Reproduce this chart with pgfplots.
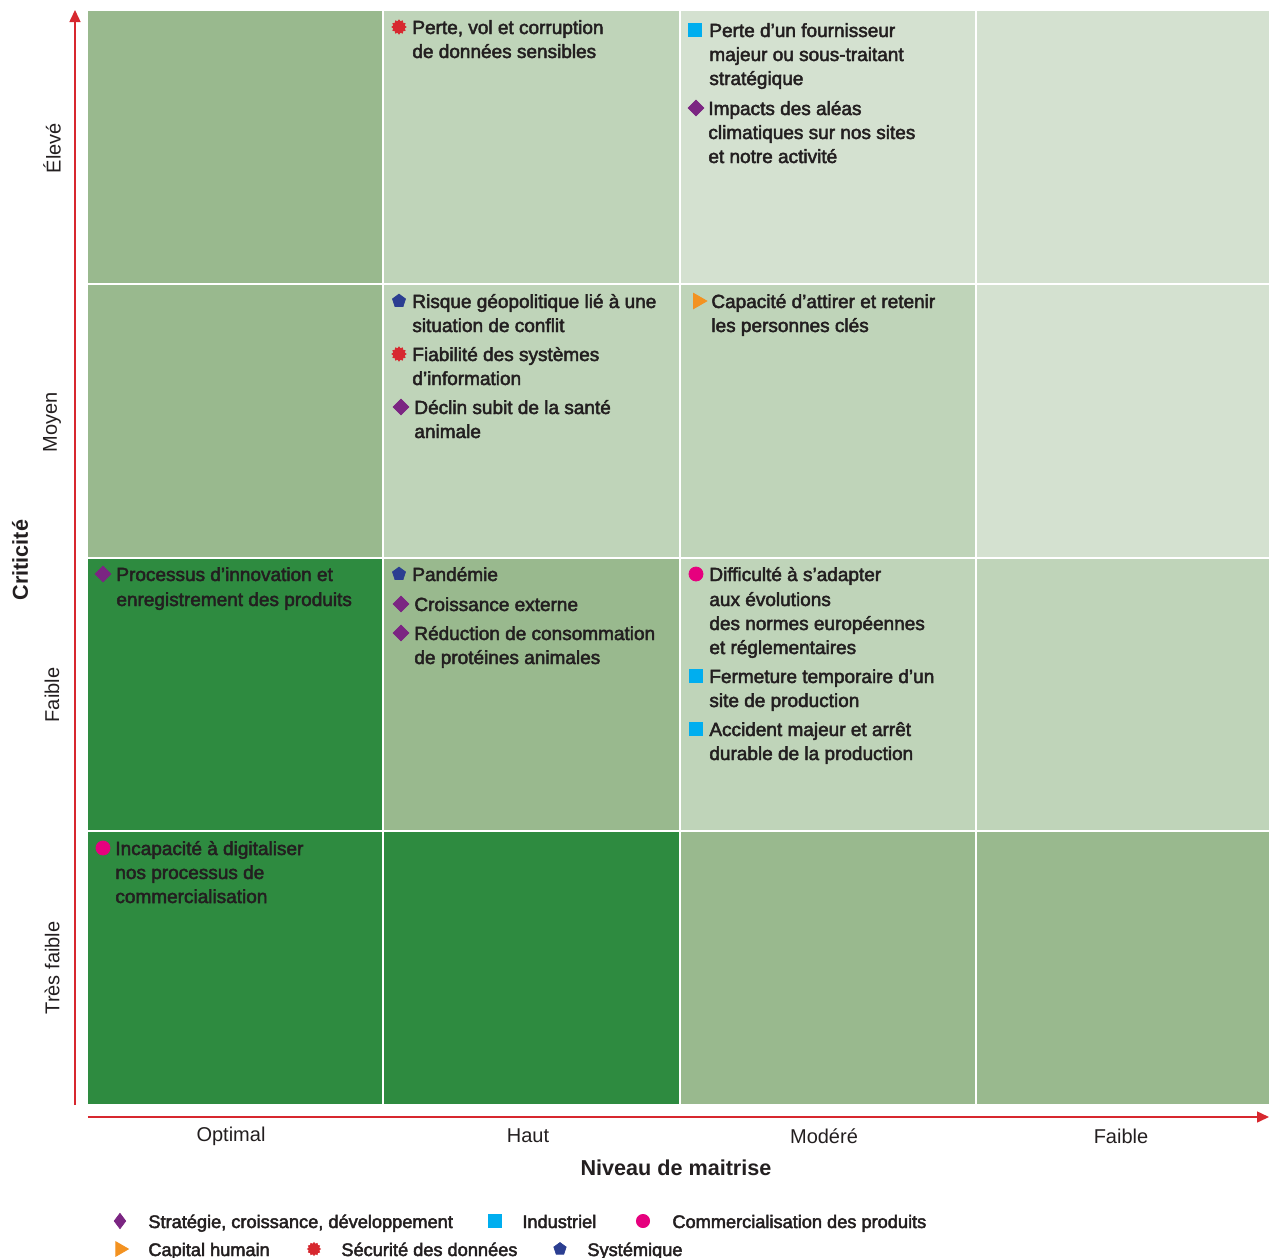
\documentclass[border=0pt]{standalone}
\usepackage{pgfplots}
\pgfplotsset{compat=1.18}
\usepackage{fontspec}
\setmainfont{Liberation Sans}
\newfontfamily\medfont[FakeBold=2.5]{Liberation Sans}
\usetikzlibrary{plotmarks,arrows.meta}
\definecolor{cA}{HTML}{2E8B40}
\definecolor{cB}{HTML}{99B98E}
\definecolor{cC}{HTML}{BFD4B9}
\definecolor{cD}{HTML}{D4E1D0}
\definecolor{txt}{HTML}{231F20}
\definecolor{mpurple}{HTML}{7B2582}
\definecolor{mcyan}{HTML}{00AEEF}
\definecolor{mmag}{HTML}{E6007E}
\definecolor{morange}{HTML}{F39221}
\definecolor{mred}{HTML}{D7282F}
\definecolor{mblue}{HTML}{2B3E91}
\definecolor{axred}{HTML}{D7282F}
\pgfdeclareplotmark{burst}{%
  \pgfpathmoveto{\pgfpointpolar{0}{\pgfplotmarksize}}%
  \pgfpathlineto{\pgfpointpolar{15}{0.78\pgfplotmarksize}}%
  \pgfpathlineto{\pgfpointpolar{30}{\pgfplotmarksize}}%
  \pgfpathlineto{\pgfpointpolar{45}{0.78\pgfplotmarksize}}%
  \pgfpathlineto{\pgfpointpolar{60}{\pgfplotmarksize}}%
  \pgfpathlineto{\pgfpointpolar{75}{0.78\pgfplotmarksize}}%
  \pgfpathlineto{\pgfpointpolar{90}{\pgfplotmarksize}}%
  \pgfpathlineto{\pgfpointpolar{105}{0.78\pgfplotmarksize}}%
  \pgfpathlineto{\pgfpointpolar{120}{\pgfplotmarksize}}%
  \pgfpathlineto{\pgfpointpolar{135}{0.78\pgfplotmarksize}}%
  \pgfpathlineto{\pgfpointpolar{150}{\pgfplotmarksize}}%
  \pgfpathlineto{\pgfpointpolar{165}{0.78\pgfplotmarksize}}%
  \pgfpathlineto{\pgfpointpolar{180}{\pgfplotmarksize}}%
  \pgfpathlineto{\pgfpointpolar{195}{0.78\pgfplotmarksize}}%
  \pgfpathlineto{\pgfpointpolar{210}{\pgfplotmarksize}}%
  \pgfpathlineto{\pgfpointpolar{225}{0.78\pgfplotmarksize}}%
  \pgfpathlineto{\pgfpointpolar{240}{\pgfplotmarksize}}%
  \pgfpathlineto{\pgfpointpolar{255}{0.78\pgfplotmarksize}}%
  \pgfpathlineto{\pgfpointpolar{270}{\pgfplotmarksize}}%
  \pgfpathlineto{\pgfpointpolar{285}{0.78\pgfplotmarksize}}%
  \pgfpathlineto{\pgfpointpolar{300}{\pgfplotmarksize}}%
  \pgfpathlineto{\pgfpointpolar{315}{0.78\pgfplotmarksize}}%
  \pgfpathlineto{\pgfpointpolar{330}{\pgfplotmarksize}}%
  \pgfpathlineto{\pgfpointpolar{345}{0.78\pgfplotmarksize}}%
  \pgfpathclose
  \pgfusepathqfillstroke
}
\newcommand\cellfont{\medfont\fontsize{9.5}{12}\selectfont}
\newcommand\legfont{\medfont\fontsize{9.1}{11}\selectfont}
\newcommand\labfont{\fontsize{10}{12}\selectfont}
\newcommand\titfont{\bfseries\fontsize{10.8}{13}\selectfont}
% cell: x0 x1 y0 y1 colour
\newcommand\cell[5]{\addplot[draw=white, line width=0.7pt, fill=#5] coordinates {(#1,#3) (#2,#3) (#2,#4) (#1,#4) (#1,#3)};}
\newcommand\celltxt[3]{\node[anchor=base west, inner sep=0pt, font=\cellfont, text=txt] at (axis cs:#1,#2) {#3};}
\newcommand\legtxt[3]{\node[anchor=base west, inner sep=0pt, font=\legfont, text=txt] at (axis cs:#1,#2) {#3};}
\begin{document}
\begin{tikzpicture}
\begin{axis}[
  scale only axis, width=591pt, height=547.5pt,
  xmin=87, xmax=1269, ymin=10, ymax=1105, y dir=reverse,
  hide axis, clip=false,
]
% cells (criticity rows x control columns)
\cell{87}{383}{10}{284}{cB}
\cell{383}{680}{10}{284}{cC}
\cell{680}{976}{10}{284}{cD}
\cell{976}{1275}{10}{284}{cD}
\cell{87}{383}{284}{558}{cB}
\cell{383}{680}{284}{558}{cC}
\cell{680}{976}{284}{558}{cC}
\cell{976}{1275}{284}{558}{cD}
\cell{87}{383}{558}{831}{cA}
\cell{383}{680}{558}{831}{cB}
\cell{680}{976}{558}{831}{cC}
\cell{976}{1275}{558}{831}{cC}
\cell{87}{383}{831}{1105}{cA}
\cell{383}{680}{831}{1105}{cA}
\cell{680}{976}{831}{1105}{cB}
\cell{976}{1275}{831}{1105}{cB}
% markers per category
\addplot[only marks, mark=square*, mark size=2.8pt, mark options={rotate=45}, color=mpurple] coordinates {(696,108) (401,407) (103,574) (401,604) (401,633)};
\addplot[only marks, mark=square*, mark size=3.3pt, color=mcyan] coordinates {(695,30) (696,676) (696,729)};
\addplot[only marks, mark=*, mark size=3.5pt, color=mmag] coordinates {(696,574) (103,848)};
\addplot[only marks, mark=triangle*, mark size=4.4pt, mark options={rotate=-90}, color=morange] coordinates {(698,301)};
\addplot[only marks, mark=burst, mark size=3.5pt, color=mred] coordinates {(399,27) (399,354)};
\addplot[only marks, mark=pentagon*, mark size=3.4pt, color=mblue] coordinates {(399,301) (399,574)};
% legend markers
\addplot[only marks, mark=diamond*, mark size=3.8pt, color=mpurple] coordinates {(120,1221)};
\addplot[only marks, mark=square*, mark size=3.1pt, color=mcyan] coordinates {(495,1221)};
\addplot[only marks, mark=*, mark size=3.3pt, color=mmag] coordinates {(643,1221)};
\addplot[only marks, mark=triangle*, mark size=4.2pt, mark options={rotate=-90}, color=morange] coordinates {(120,1249)};
\addplot[only marks, mark=burst, mark size=3.2pt, color=mred] coordinates {(314,1249)};
\addplot[only marks, mark=pentagon*, mark size=3.2pt, color=mblue] coordinates {(560,1249)};
% cell texts
\celltxt{412}{34}{Perte, vol et corruption}
\celltxt{412}{58}{de données sensibles}
\celltxt{709}{37}{Perte d’un fournisseur}
\celltxt{709}{61}{majeur ou sous-traitant}
\celltxt{709}{85}{stratégique}
\celltxt{708}{115}{Impacts des aléas}
\celltxt{708}{139}{climatiques sur nos sites}
\celltxt{708}{163}{et notre activité}
\celltxt{412}{308}{Risque géopolitique lié à une}
\celltxt{412}{332}{situation de conflit}
\celltxt{412}{361}{Fiabilité des systèmes}
\celltxt{412}{385}{d’information}
\celltxt{414}{414}{Déclin subit de la santé}
\celltxt{414}{438}{animale}
\celltxt{711}{308}{Capacité d’attirer et retenir}
\celltxt{711}{332}{les personnes clés}
\celltxt{116}{581}{Processus d’innovation et}
\celltxt{116}{606}{enregistrement des produits}
\celltxt{412}{581}{Pandémie}
\celltxt{414}{611}{Croissance externe}
\celltxt{414}{640}{Réduction de consommation}
\celltxt{414}{664}{de protéines animales}
\celltxt{709}{581}{Difficulté à s’adapter}
\celltxt{709}{606}{aux évolutions}
\celltxt{709}{630}{des normes européennes}
\celltxt{709}{654}{et réglementaires}
\celltxt{709}{683}{Fermeture temporaire d’un}
\celltxt{709}{707}{site de production}
\celltxt{709}{736}{Accident majeur et arrêt}
\celltxt{709}{760}{durable de la production}
\celltxt{115}{855}{Incapacité à digitaliser}
\celltxt{115}{879}{nos processus de}
\celltxt{115}{903}{commercialisation}
% legend texts
\legtxt{148}{1228}{Stratégie, croissance, développement}
\legtxt{522}{1228}{Industriel}
\legtxt{672}{1228}{Commercialisation des produits}
\legtxt{148}{1256}{Capital humain}
\legtxt{341}{1256}{Sécurité des données}
\legtxt{587}{1256}{Systémique}
% axes arrows
\draw[axred, line width=0.75pt, -{Triangle[length=6pt,width=5.5pt]}] (axis cs:75,1105) -- (axis cs:75,10);
\draw[axred, line width=0.75pt, -{Triangle[length=6pt,width=5.5pt]}] (axis cs:88,1117) -- (axis cs:1269,1117);
% axis labels
\node[font=\labfont, text=txt] at (axis cs:231,1136) {Optimal};
\node[font=\labfont, text=txt] at (axis cs:528,1136) {Haut};
\node[font=\labfont, text=txt] at (axis cs:824,1136) {Modéré};
\node[font=\labfont, text=txt] at (axis cs:1121,1136) {Faible};
\node[font=\titfont, text=txt] at (axis cs:676,1168) {Niveau de maitrise};
\node[font=\labfont, text=txt, rotate=90] at (axis cs:52,148) {Élevé};
\node[font=\labfont, text=txt, rotate=90] at (axis cs:52,422) {Moyen};
\node[font=\labfont, text=txt, rotate=90] at (axis cs:52,695) {Faible};
\node[font=\labfont, text=txt, rotate=90] at (axis cs:52,968) {Très faible};
\node[font=\titfont, text=txt, rotate=90] at (axis cs:20,560) {Criticité};
\coordinate (BL) at (axis cs:0,1258);
\coordinate (TR) at (axis cs:1269,0);
\end{axis}
\pgfresetboundingbox
\path (BL) rectangle (TR);
\end{tikzpicture}
\end{document}
